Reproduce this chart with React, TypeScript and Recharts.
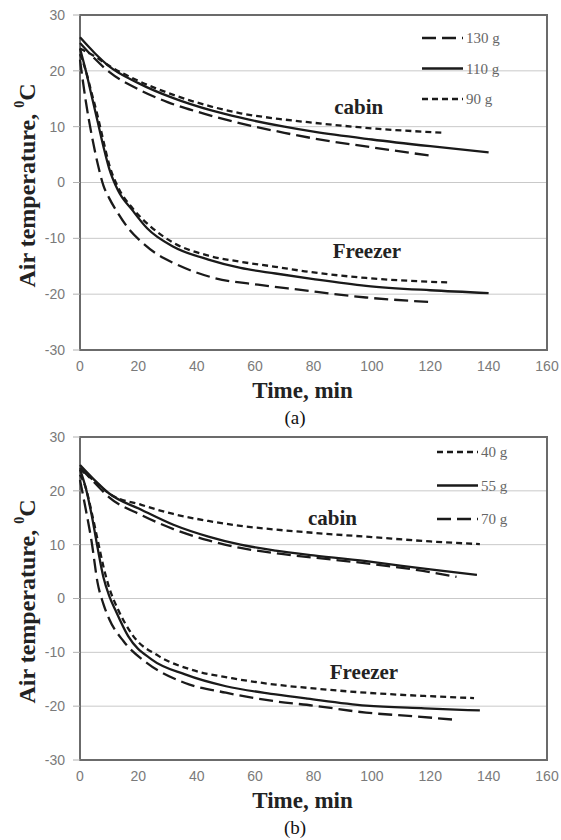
import React from 'react';
import {
  LineChart,
  Line,
  XAxis,
  YAxis,
  CartesianGrid,
  ReferenceArea,
  ReferenceDot,
} from 'recharts';

type Pt = [number, number];

const timeTicks = [0, 20, 40, 60, 80, 100, 120, 140, 160];
const tempTicks = [-30, -20, -10, 0, 10, 20, 30];

// (a) refrigerant charge: 130 g / 110 g / 90 g
const cabinA130: Pt[] = [[0, 25], [5, 22.2], [10, 19.8], [20, 16.7], [30, 14.4], [40, 12.7], [55, 10.6], [70, 8.9], [80, 7.9], [100, 6.3], [120, 4.8]];
const cabinA110: Pt[] = [[0, 26], [5, 23.2], [10, 20.8], [20, 17.8], [32, 15.1], [45, 12.9], [55, 11.6], [70, 10], [80, 9.1], [100, 7.7], [120, 6.5], [140, 5.4]];
const cabinA90: Pt[] = [[0, 24], [5, 22.6], [10, 20.9], [20, 18.2], [32, 15.7], [45, 13.6], [55, 12.4], [68, 11.4], [80, 10.7], [100, 9.7], [125, 8.9]];

const freezerA130: Pt[] = [[0, 22], [2, 14.5], [4, 8.5], [6, 3.5], [8, -0.5], [10, -2.8], [13, -5.5], [17, -8.5], [21, -10.6], [26, -12.7], [32, -14.4], [46, -17.1], [61, -18.3], [75, -19.2], [98, -20.6], [120, -21.4]];
const freezerA110: Pt[] = [[0, 24], [2, 20], [4, 15.5], [6, 11], [8, 6.5], [10, 2.5], [13, -1.4], [18, -5], [23, -8.2], [32, -11.5], [44, -13.8], [55, -15.3], [67, -16.3], [80, -17.3], [98, -18.5], [120, -19.3], [140, -19.8]];
const freezerA90: Pt[] = [[0, 23], [2, 20], [4, 16], [6, 12], [8, 7.5], [10, 3.2], [13, -0.8], [18, -4.6], [24, -7.8], [32, -10.8], [44, -13.1], [55, -14.2], [67, -15.1], [77, -15.9], [98, -17.1], [126, -17.9]];

// (b) refrigerant charge: 40 g / 55 g / 70 g
const cabinB40: Pt[] = [[0, 24], [5, 21.8], [10, 19.5], [21, 17.4], [32, 15.7], [44, 14.4], [55, 13.5], [67, 12.8], [80, 12.2], [100, 11.4], [120, 10.6], [137, 10.1]];
const cabinB55: Pt[] = [[0, 24.8], [5, 22], [10, 19.5], [21, 16.5], [32, 13.7], [44, 11.5], [55, 10], [67, 8.9], [80, 8], [100, 6.8], [120, 5.4], [136, 4.4]];
const cabinB70: Pt[] = [[0, 24.3], [5, 21.5], [10, 18.8], [21, 15.5], [32, 12.9], [44, 10.8], [55, 9.4], [67, 8.4], [80, 7.6], [100, 6.4], [120, 4.9], [129, 4]];

const freezerB40: Pt[] = [[0, 23], [2, 20.5], [4, 16], [6, 11], [8, 6], [10, 2], [13, -2], [18, -6.8], [27, -10.7], [38, -13.2], [52, -14.8], [67, -16], [80, -16.7], [98, -17.5], [118, -18.1], [135, -18.5]];
const freezerB55: Pt[] = [[0, 24], [2, 20.5], [4, 15.5], [6, 9.5], [8, 4], [10, 0.5], [12, -2], [16.5, -7], [24.5, -11.3], [36, -14.1], [50, -16.3], [67, -17.8], [78, -18.6], [98, -19.9], [118, -20.4], [137, -20.8]];
const freezerB70: Pt[] = [[0, 22], [2, 16.5], [4, 10.5], [6, 3], [8, -1], [10, -3.8], [15, -8], [23, -12], [36, -15.7], [50, -17.5], [67, -19.1], [80, -19.9], [98, -21.2], [115, -21.9], [128, -22.5]];

const LONG = '14 6';
const SHORT = '6 4';

interface Series {
  name: string;
  dash?: string;
  cabin: Pt[];
  freezer: Pt[];
}

const seriesA: Series[] = [
  { name: '130 g', dash: LONG, cabin: cabinA130, freezer: freezerA130 },
  { name: '110 g', cabin: cabinA110, freezer: freezerA110 },
  { name: '90 g', dash: SHORT, cabin: cabinA90, freezer: freezerA90 },
];

const seriesB: Series[] = [
  { name: '40 g', dash: SHORT, cabin: cabinB40, freezer: freezerB40 },
  { name: '55 g', cabin: cabinB55, freezer: freezerB55 },
  { name: '70 g', dash: LONG, cabin: cabinB70, freezer: freezerB70 },
];

// compartment labels, in data units
const notesA = [
  { text: 'cabin', t: 95.5, v: 13.5 },
  { text: 'Freezer', t: 98.3, v: -12.2 },
];
const notesB = [
  { text: 'cabin', t: 86.5, v: 15.0 },
  { text: 'Freezer', t: 97.3, v: -13.7 },
];

const SERIF = 'Liberation Serif';
const SANS = 'Liberation Sans';
const INK = '#1a1a1a';

const toRows = (pts: Pt[]) => pts.map(([t, v]) => ({ t, v }));

const XTitle = (props: any) => {
  const { x, y, width } = props.viewBox;
  return (
    <text x={x + width / 2 - 11} y={y + 48} textAnchor="middle" style={{ fontFamily: SERIF, fontWeight: 700, fontSize: 23 }} fill="#222">
      Time, min
    </text>
  );
};

const YTitle = (props: any) => {
  const { y, height } = props.viewBox;
  const cx = 27;
  const cy = y + height / 2 + 3;
  return (
    <text
      transform={`rotate(-90 ${cx} ${cy})`}
      x={cx}
      y={cy}
      textAnchor="middle"
      dominantBaseline="central"
      style={{ fontFamily: SERIF, fontWeight: 700, fontSize: 24 }}
      fill="#222"
    >
      Air temperature, <tspan dy={-8} style={{ fontSize: 14 }}>0</tspan>
      <tspan dy={8}>C</tspan>
    </text>
  );
};

const noteLabel = (text: string) => (props: any) => {
  const { x, y } = props.viewBox;
  return (
    <text x={x} y={y} textAnchor="middle" dominantBaseline="central" style={{ fontFamily: SERIF, fontWeight: 700, fontSize: 21 }} fill="#222">
      {text}
    </text>
  );
};

const Panel: React.FC<{ series: Series[]; notes: typeof notesA; height: number; top: number }> = ({ series, notes, height, top }) => (
  <LineChart width={561} height={height} margin={{ top, right: 14, bottom: 0, left: 0 }}>
    <CartesianGrid vertical={false} stroke="#c9c9c9" />
    <XAxis
      type="number"
      dataKey="t"
      domain={[0, 160]}
      ticks={timeTicks}
      interval={0}
      axisLine={false}
      tickLine={false}
      tickSize={4}
      tickMargin={7}
      height={55}
      tick={{ fontSize: 14, fill: '#7a7a7a', fontFamily: SANS }}
      label={{ content: XTitle }}
    />
    <YAxis
      type="number"
      domain={[-30, 30]}
      ticks={tempTicks}
      interval={0}
      width={80}
      axisLine={false}
      tickLine={{ stroke: '#b0b0b0' }}
      tickSize={7}
      tickMargin={8}
      tick={{ fontSize: 14, fill: '#7a7a7a', fontFamily: SANS }}
      label={{ content: YTitle }}
    />
    <ReferenceArea x1={0} x2={160} y1={-30} y2={30} fill="none" fillOpacity={0} stroke="#6b6b6b" strokeWidth={2} />
    {series.map((s) =>
      [s.cabin, s.freezer].map((pts, i) => (
        <Line
          key={`${s.name}-${i}`}
          data={toRows(pts)}
          dataKey="v"
          type="monotone"
          stroke={INK}
          strokeWidth={2.3}
          strokeDasharray={s.dash}
          dot={false}
          activeDot={false}
          isAnimationActive={false}
        />
      ))
    )}
    {notes.map((n) => (
      <ReferenceDot key={n.text} x={n.t} y={n.v} r={0} fill="none" stroke="none" label={{ content: noteLabel(n.text) }} />
    ))}
  </LineChart>
);

const Key: React.FC<{ series: Series[]; left: number; top: number; gap: number }> = ({ series, left, top, gap }) => (
  <svg style={{ position: 'absolute', left, top }} width={100} height={gap * series.length + 10}>
    {series.map((s, i) => (
      <g key={s.name}>
        <line x1={0} x2={41} y1={8 + i * gap} y2={8 + i * gap} stroke={INK} strokeWidth={2.3} strokeDasharray={s.dash} />
        <text x={44} y={8 + i * gap} dominantBaseline="central" style={{ fontFamily: SERIF, fontSize: 15 }} fill="#666">
          {s.name}
        </text>
      </g>
    ))}
  </svg>
);

const Caption: React.FC<{ text: string; top: number }> = ({ text, top }) => (
  <div style={{ position: 'absolute', left: 265, top, width: 60, textAlign: 'center', fontFamily: SERIF, fontSize: 19, lineHeight: '20px', color: '#111' }}>
    {text}
  </div>
);

export default function App() {
  return (
    <div style={{ position: 'absolute', left: 0, top: 0, width: 561, height: 840, background: '#fff' }}>
      <div style={{ position: 'absolute', left: 0, top: 0 }}>
        <Panel series={seriesA} notes={notesA} height={405} top={15} />
      </div>
      <Key series={seriesA} left={422} top={30} gap={30.5} />
      <Caption text="(a)" top={408} />
      <div style={{ position: 'absolute', left: 0, top: 425 }}>
        <Panel series={seriesB} notes={notesB} height={390} top={12} />
      </div>
      <Key series={seriesB} left={437} top={444} gap={33.5} />
      <Caption text="(b)" top={818} />
    </div>
  );
}
